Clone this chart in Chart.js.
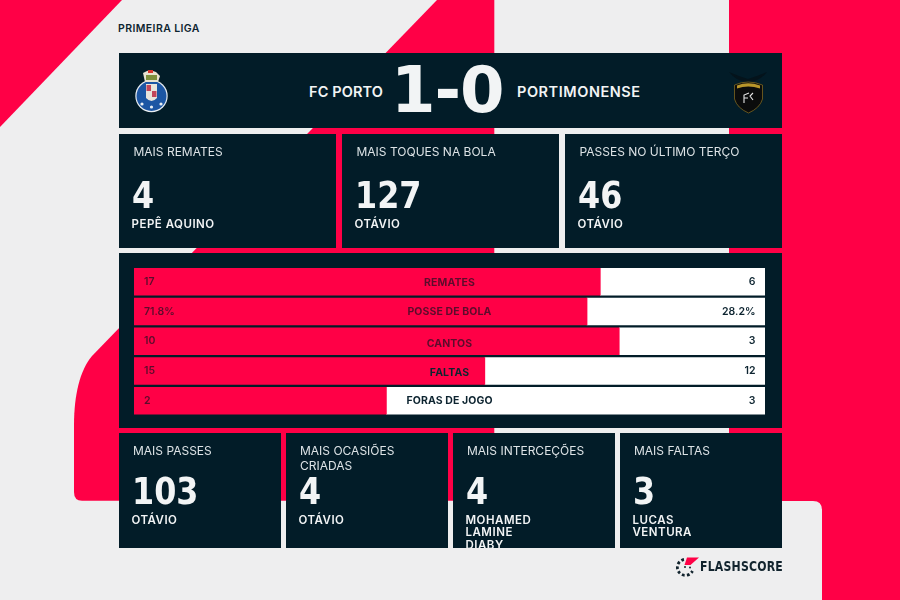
<!DOCTYPE html>
<html lang="pt">
<head>
<meta charset="utf-8">
<title>FC Porto 1-0 Portimonense</title>
<script src="https://cdn.jsdelivr.net/npm/chart.js@4/dist/chart.umd.min.js"></script>
<style>
    html, body { margin: 0; padding: 0; }
    body { width: 900px; height: 600px; overflow: hidden; position: relative; background: #eeeeef; font-family: Inter, sans-serif; }
    svg.layer { position: absolute; left: 0; top: 0; }
    .panel { position: absolute; background: #021c28; overflow: hidden; color: #f2f4f5; }
    .txt { position: absolute; white-space: nowrap; }
    .league { left: 118px; top: 21.5px; font-size: 10.5px; font-weight: 600; letter-spacing: .4px; color: #0d2430; line-height: 14px; }
    .team { top: 30.5px; font-size: 14.5px; font-weight: 600; letter-spacing: .55px; line-height: 16px; }
    .score { left: 272px; top: 0; font: bold 64px/75px "DejaVu Sans", sans-serif; letter-spacing: -1px; }
    .title { font-size: 12px; font-weight: 400; letter-spacing: 0; line-height: 14.5px; color: #dde3e6; white-space: pre-line; }
    .big { font: bold 37px/40px "DejaVu Sans", sans-serif; transform-origin: left top; transform: scaleX(.86); }
    .name { font-size: 11.5px; font-weight: 600; letter-spacing: .5px; line-height: 12.7px; white-space: pre-line; }
    .brand { left: 700px; top: 558px; font: bold 13.5px/16px "DejaVu Sans", sans-serif; color: #12242e; letter-spacing: .25px; transform-origin: left top; transform: scaleX(.81); }
    #statsPanel { left: 119px; top: 252.5px; width: 663px; height: 175.5px; }
    #statsPanel canvas { display: block; }
</style>
</head>
<body>

<svg class="layer" width="900" height="600">
    <path fill="#ff0046" d="M0 0 L122 0 L0 127 Z"/>
    <path fill="#ff0046" d="M437 0 L494.3 0 L494.3 500.7 L82 500.7 Q74 500.7 74 492 L74 425 C74 395 80 370 92 356 Z"/>
    <path fill="#ff0046" d="M729 0 H900 V600 H822 V510 Q822 501 813 501 H729 Z"/>
</svg>

<div class="txt league">PRIMEIRA LIGA</div>

<div class="panel" id="headerPanel" style="left:119px;top:53px;width:663px;height:75px;">
    <div class="txt team" id="homeTeam" style="right:399px;letter-spacing:.1px;"></div>
    <div class="txt score" id="scoreText"></div>
    <div class="txt team" id="awayTeam" style="left:398px;"></div>
</div>

<div class="panel" id="statsPanel"><canvas id="statsChart"></canvas></div>

<svg class="layer" width="900" height="600">
    <!-- club crests and brand mark, small approximations -->
    <circle cx="151.5" cy="96" r="16.2" fill="#e9eef3"/>
    <circle cx="151.5" cy="96" r="15" fill="#1c56a4"/>
    <path fill="#e8e4dc" d="M146 84 H157 V98 Q151.5 104 146 98 Z"/>
    <path fill="#c2455a" d="M146.5 85 H151 V91 H146.5 Z M152 91 H156.5 V97 H152 Z"/>
    <path fill="#e9e2d0" d="M143 73 L147 71 L150 70 L156 72 L160 76 L158 82 L145 82 Z"/>
    <path fill="#7e8f3c" d="M146 75 H157 V80 H146 Z"/>
    <path fill="#d8342c" d="M148 70 H153 V73 H148 Z"/>
    <circle cx="142" cy="104" r="1.6" fill="#e9eef3"/>
    <circle cx="151.5" cy="107" r="1.6" fill="#e9eef3"/>
    <circle cx="161" cy="104" r="1.6" fill="#e9eef3"/>

    <path fill="#04131b" d="M729 72 Q738 76 748 79 Q758 76 767 72 Q760 81 750 82 L747 82 Q736 81 729 72 Z"/>
    <path fill="#0b0c0c" stroke="#7d6620" stroke-width=".8" d="M734.5 85 Q748 79 762.5 85 L762.5 99 Q760 108 748.5 113 Q737 108 734.5 99 Z"/>
    <path fill="#b8962a" d="M737 85.5 Q748 81 760 85.5 L760 88.5 Q748 84.5 737 88.5 Z"/>
    <path fill="none" stroke="#e6e6e6" stroke-width="1.1" d="M744 103 V95 L749 93 M744 98 H748 M753 93 L750 96 L753 100"/>

    <path fill="#ff0046" d="M687 557.5 H699 L690.5 565 L684.5 565 Z"/>
    <g stroke="#12242e" stroke-width="2.8" fill="none" stroke-dasharray="2.8 2.2">
        <path d="M684 559.5 A8 8 0 1 0 692.5 571"/>
    </g>
    <circle cx="685" cy="567" r="1" fill="#12242e"/>
    <circle cx="690" cy="567.5" r="1" fill="#12242e"/>
</svg>

<div class="txt brand">FLASHSCORE</div>

<script>
"use strict";

const homeTeam = "FC PORTO";
const awayTeam = "PORTIMONENSE";
const scoreLine = "1-0";

const categories = ["REMATES", "POSSE DE BOLA", "CANTOS", "FALTAS", "FORAS DE JOGO"];
const homeLabels = ["17", "71.8%", "10", "15", "2"];
const awayLabels = ["6", "28.2%", "3", "12", "3"];
const homeShare = [73.9, 71.8, 76.9, 55.6, 40];
const awayShare = [26.1, 28.2, 23.1, 44.4, 60];

const topTitles = ["MAIS REMATES", "MAIS TOQUES NA BOLA", "PASSES NO ÚLTIMO TERÇO"];
const topValues = ["4", "127", "46"];
const topNames = ["PEPÊ AQUINO", "OTÁVIO", "OTÁVIO"];

const bottomTitles = ["MAIS PASSES", "MAIS OCASIÕES\nCRIADAS", "MAIS INTERCEÇÕES", "MAIS FALTAS"];
const bottomValues = ["103", "4", "4", "3"];
const bottomNames = ["OTÁVIO", "OTÁVIO", "MOHAMED\nLAMINE\nDIABY", "LUCAS\nVENTURA"];

const RED = "#ff0046";
const WHITE = "#ffffff";
const INK = "#0d2430";
const INK_ON_RED = "#5c0c2c";

const addText = (parent, className, text, left, top) => {

    const el = document.createElement("div");

    el.className = "txt " + className;
    el.textContent = text;
    el.style.left = left + "px";
    el.style.top = top + "px";

    parent.appendChild(el);
};

const addCard = (left, top, width, height, title, value, name, titleLeft, bigTop, nameTop) => {

    const card = document.createElement("div");

    card.className = "panel";
    card.style.left = left + "px";
    card.style.top = top + "px";
    card.style.width = width + "px";
    card.style.height = height + "px";

    addText(card, "title", title, titleLeft, 11);
    addText(card, "big", value, 13, bigTop);
    addText(card, "name", name, 12.5, nameTop);

    document.body.appendChild(card);
};

topTitles.forEach((title, i) => {

    addCard(119 + i * 223, 133.5, 217, 114.5, title, topValues[i], topNames[i], 14.5, 42, 84);
});

bottomTitles.forEach((title, i) => {

    addCard(119 + i * 167, 433, 161.5, 114.7, title, bottomValues[i], bottomNames[i], 14, 39, 80.5);
});

document.getElementById("homeTeam").textContent = homeTeam;
document.getElementById("awayTeam").textContent = awayTeam;
document.getElementById("scoreText").textContent = scoreLine;

// labels sit on top of the bars, the category one is not quite centred in the source
const categoryNudge = [1.4, 0, 3, 1.6, 0];

const barLabels = {

    id: "barLabels",

    afterDatasetsDraw(chart) {

        const { ctx, scales } = chart;
        const middle = scales.x.getPixelForValue(50);

        ctx.save();
        ctx.textBaseline = "middle";

        categories.forEach((category, i) => {

            const y = scales.y.getPixelForValue(i);
            const homeEnd = scales.x.getPixelForValue(homeShare[i]);

            ctx.letterSpacing = "0px";
            ctx.font = "600 10.5px Inter, sans-serif";

            ctx.textAlign = "left";
            ctx.fillStyle = INK_ON_RED;
            ctx.fillText(homeLabels[i], scales.x.left + 10, y);

            ctx.textAlign = "right";
            ctx.fillStyle = INK;
            ctx.fillText(awayLabels[i], scales.x.right - 9.5, y);

            ctx.letterSpacing = "0.1px";
            ctx.font = "700 10.5px Inter, sans-serif";
            ctx.textAlign = "center";
            ctx.fillStyle = homeEnd > middle + 40 ? INK_ON_RED : INK;
            ctx.fillText(category, middle, y + categoryNudge[i]);
        });

        ctx.restore();
    }
};

document.addEventListener("DOMContentLoaded", () => {

    new Chart(document.getElementById("statsChart"), {

        type: "bar",

        data: {

            labels: categories,

            datasets: [
                { label: homeTeam, data: homeShare, backgroundColor: RED, barThickness: 26.8, borderWidth: 0 },
                { label: awayTeam, data: awayShare, backgroundColor: WHITE, barThickness: 26.8, borderWidth: 0 }
            ]
        },

        options: {

            indexAxis: "y",
            responsive: true,
            maintainAspectRatio: false,
            animation: false,
            devicePixelRatio: 1,

            layout: {
                padding: { left: 15, right: 17, top: 14, bottom: 13 }
            },

            plugins: {
                legend: { display: false },
                tooltip: { enabled: false }
            },

            scales: {
                x: { stacked: true, display: false, min: 0, max: 100 },
                y: { stacked: true, display: false }
            }
        },

        plugins: [barLabels]
    });
});
</script>
</body>
</html>
